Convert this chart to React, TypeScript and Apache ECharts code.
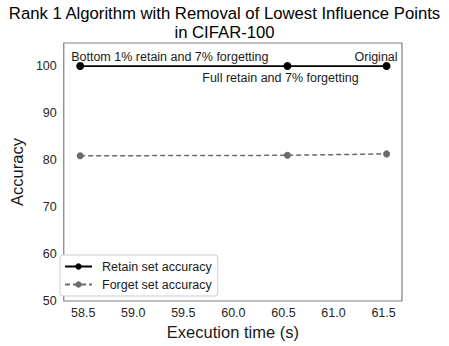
import React, { useEffect, useRef } from "react";
import * as echarts from "echarts";

const titleText = "Rank 1 Algorithm with Removal of Lowest Influence Points";
const titleLine2 = "in CIFAR-100";
const xName = "Execution time (s)";
const yName = "Accuracy";
const executionTimes = [58.47, 60.54, 61.53];
const retainAccuracy = [100, 100, 100];
const forgetAccuracy = [80.9, 81.0, 81.3];
const pointLabels = ["Bottom 1% retain and 7% forgetting", "Full retain and 7% forgetting", "Original"];
const seriesNames = ["Retain set accuracy", "Forget set accuracy"];

const FONT = '"Liberation Sans", Arial, Helvetica, sans-serif';

const labelStyles = [
  { position: "top", distance: 0, align: "left", verticalAlign: "middle", offset: [-9, -5] },
  { position: "bottom", distance: 0, align: "center", verticalAlign: "middle", offset: [-7, 8] },
  { position: "top", distance: 0, align: "right", verticalAlign: "middle", offset: [11, -5] },
];

export default function App() {
  const ref = useRef<HTMLDivElement>(null);
  useEffect(() => {
    if (!ref.current) return;
    const chart = echarts.init(ref.current, undefined, { renderer: "svg" });
    const retainData = executionTimes.map((x, i) => ({
      value: [x, retainAccuracy[i]],
      label: {
        show: true,
        formatter: pointLabels[i],
        fontSize: 12.5,
        fontFamily: FONT,
        color: "#1a1a1a",
        ...labelStyles[i],
      },
    }));
    const forgetData = executionTimes.map((x, i) => [x, forgetAccuracy[i]]);
    const titleStyle = {
      fontSize: 16.7,
      fontWeight: "normal",
      color: "#000000",
      fontFamily: FONT,
      lineHeight: 17,
    };
    chart.setOption({
      animation: false,
      backgroundColor: "#ffffff",
      textStyle: { fontFamily: FONT },
      title: {
        text: titleText,
        subtext: titleLine2,
        left: "center",
        top: 5,
        padding: [0, 0, 0, 5],
        itemGap: 2,
        textStyle: titleStyle,
        subtextStyle: titleStyle,
      },
      grid: {
        left: 53,
        top: 43,
        right: 47,
        bottom: 45,
        show: true,
        borderColor: "#7f7f7f",
        borderWidth: 1.2,
        backgroundColor: "#ffffff",
      },
      legend: {
        orient: "vertical",
        left: 60,
        top: 255,
        padding: [5, 6, 5, 4],
        itemGap: 5,
        itemWidth: 27,
        itemHeight: 8,
        borderColor: "#cccccc",
        borderWidth: 1,
        borderRadius: 3,
        backgroundColor: "#ffffff",
        textStyle: { fontSize: 12.5, color: "#1a1a1a", fontFamily: FONT, padding: [0, 0, 0, 5] },
        data: seriesNames,
      },
      xAxis: {
        type: "value",
        min: 58.306,
        max: 61.684,
        minInterval: 0.5,
        maxInterval: 0.5,
        splitNumber: 7,
        name: xName,
        nameLocation: "middle",
        nameGap: 19,
        nameTextStyle: { fontSize: 16.5, color: "#1a1a1a", fontFamily: FONT },
        axisLine: { show: false },
        axisTick: { show: false },
        splitLine: { show: false },
        axisLabel: {
          fontSize: 12.5,
          color: "#262626",
          fontFamily: FONT,
          margin: 5,
          showMinLabel: false,
          showMaxLabel: false,
          formatter: (v: number) =>
            Math.abs(v * 2 - Math.round(v * 2)) < 1e-6 ? v.toFixed(1) : "",
        },
      },
      yAxis: {
        type: "value",
        min: 50,
        max: 104.9,
        interval: 10,
        name: yName,
        nameLocation: "middle",
        nameGap: 33,
        nameTextStyle: { fontSize: 16.5, color: "#1a1a1a", fontFamily: FONT },
        axisLine: { show: false },
        axisTick: { show: false },
        splitLine: { show: false },
        axisLabel: {
          fontSize: 12.5,
          color: "#262626",
          fontFamily: FONT,
          margin: 7,
          showMaxLabel: false,
          formatter: (v: number) => (Math.abs(v % 10) < 1e-6 ? String(v) : ""),
        },
      },
      series: [
        {
          name: seriesNames[0],
          type: "line",
          data: retainData,
          symbol: "circle",
          symbolSize: 8,
          color: "#000000",
          lineStyle: { color: "#000000", width: 1.8 },
          itemStyle: { color: "#000000" },
          z: 3,
        },
        {
          name: seriesNames[1],
          type: "line",
          data: forgetData,
          symbol: "circle",
          symbolSize: 7,
          color: "#6b6b6b",
          lineStyle: { color: "#6b6b6b", width: 1.5, type: [5, 3] },
          itemStyle: { color: "#6b6b6b" },
          z: 2,
        },
      ],
    });
    return () => chart.dispose();
  }, []);
  return (
    <div
      ref={ref}
      style={{ position: "fixed", left: 0, top: 0, width: 449, height: 346, background: "#fff" }}
    />
  );
}
